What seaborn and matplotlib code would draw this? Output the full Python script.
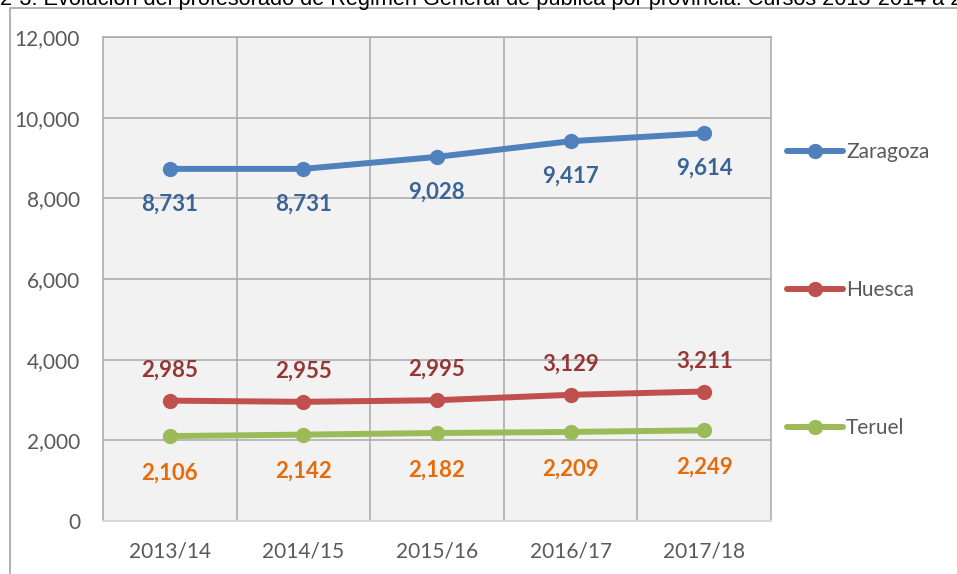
import matplotlib
matplotlib.use("Agg")
import matplotlib.pyplot as plt
from matplotlib.lines import Line2D
from matplotlib.patches import Rectangle
import seaborn as sns
import pandas as pd

# data
cursos = ["2013/14", "2014/15", "2015/16", "2016/17", "2017/18"]
provincias = ["Zaragoza", "Huesca", "Teruel"]
zaragoza = [8731, 8731, 9028, 9417, 9614]
huesca = [2985, 2955, 2995, 3129, 3211]
teruel = [2106, 2142, 2182, 2209, 2249]
y_ticks = [0, 2000, 4000, 6000, 8000, 10000, 12000]

line_colors = {"Zaragoza": "#4F81BD", "Huesca": "#C0504D", "Teruel": "#9BBB59"}
label_colors = {"Zaragoza": "#3B6496", "Huesca": "#953735", "Teruel": "#E46C0A"}
# label offset in points (negative = below the point)
label_offsets = {"Zaragoza": -25.5, "Huesca": 22, "Teruel": -26.5}

sns.set_style("white")
plt.rcParams["font.family"] = ["Lato", "DejaVu Sans"]

df = pd.DataFrame({
    "curso": cursos * 3,
    "valor": zaragoza + huesca + teruel,
    "provincia": [p for p in provincias for _ in cursos],
})

fig = plt.figure(figsize=(9.57, 5.74), dpi=100)
ax = fig.add_axes([0.1076, 0.0923, 0.698, 0.8432])
ax.set_facecolor("#F2F2F2")

sns.lineplot(data=df, x="curso", y="valor", hue="provincia", palette=line_colors,
             hue_order=provincias, sort=False, marker="o", markersize=11,
             markeredgewidth=0, linewidth=4.3, ax=ax, legend=False)

# data labels
for prov in provincias:
    sub = df[df["provincia"] == prov]
    for i, v in enumerate(sub["valor"]):
        ax.annotate(f"{v:,}", (i, v), xytext=(0, label_offsets[prov]),
                    textcoords="offset points", ha="center", va="center",
                    fontsize=16, fontweight="bold", color=label_colors[prov])

ax.set_xlim(-0.5, 4.5)
ax.set_ylim(0, 12000)
ax.set_yticks(y_ticks)
ax.set_yticklabels([f"{t:,}" for t in y_ticks])
ax.set_xticks(range(len(cursos)))
ax.set_xticks([0.5, 1.5, 2.5, 3.5], minor=True)
ax.set_xlabel("")
ax.set_ylabel("")
ax.tick_params(axis="both", which="both", length=0, labelsize=15, colors="#595959")
ax.tick_params(axis="y", pad=16.5)
ax.tick_params(axis="x", pad=15)
ax.grid(axis="y", which="major", color="#A8A8A8", linewidth=1.1)
ax.grid(axis="x", which="minor", color="#A8A8A8", linewidth=1.1)
ax.set_axisbelow(True)
for side in ["left", "top", "right"]:
    ax.spines[side].set_color("#A8A8A8")
    ax.spines[side].set_linewidth(1.1)
ax.spines["bottom"].set_color("#D9D9D9")
ax.spines["bottom"].set_linewidth(1.5)

# legend
handles = [Line2D([0], [0], color=line_colors[p], linewidth=4.3, marker="o",
                  markersize=11, markeredgewidth=0) for p in provincias]
leg = fig.legend(handles, provincias, loc="center left", bbox_to_anchor=(0.822, 0.4948),
                 frameon=False, fontsize=15, handlelength=2.7, handletextpad=0.15,
                 labelspacing=5.67, borderpad=0, borderaxespad=0)
for t in leg.get_texts():
    t.set_color("#595959")

# outer chart frame (partly cropped in the reference)
fig.patches.append(Rectangle((10 / 957, -0.1), 1.2, 1 - 8 / 574 + 0.1,
                             transform=fig.transFigure, fill=False,
                             edgecolor="#A6A6A6", linewidth=1.2))

# title, cropped at the top of the image
fig.text(0.0, 1 - 5 / 574,
         "2-3. Evolución del profesorado de Régimen General de pública por provincia. "
         "Cursos 2013-2014 a 2017-2018",
         family=["Liberation Sans", "DejaVu Sans"], fontsize=15.65, color="black",
         ha="left", va="baseline")

fig.savefig("out.png", dpi=100)
